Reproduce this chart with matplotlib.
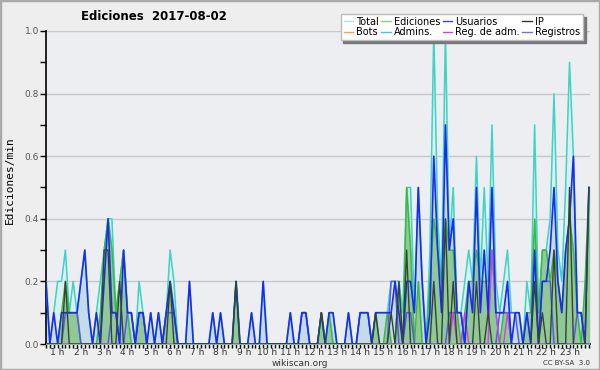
import numpy as np
import matplotlib
matplotlib.use("Agg")
import matplotlib.pyplot as plt
from matplotlib.lines import Line2D
from matplotlib.patches import Rectangle

# ========================
# DATA (edits/min, one point every 10 min from 00:30)
# ========================

hour_labels = [f"{h} h" for h in range(1, 24)]

total = [
    0.2, 0.0, 0.1, 0.2, 0.2, 0.3, 0.1, 0.2, 0.1, 0.2,
    0.3, 0.1, 0.0, 0.1, 0.2, 0.3, 0.4, 0.4, 0.1, 0.2,
    0.3, 0.1, 0.1, 0.0, 0.2, 0.1, 0.0, 0.1, 0.0, 0.1,
    0.0, 0.1, 0.3, 0.2, 0.0, 0.0, 0.0, 0.2, 0.0, 0.0,
    0.0, 0.0, 0.0, 0.1, 0.0, 0.1, 0.0, 0.0, 0.0, 0.2,
    0.0, 0.0, 0.0, 0.1, 0.0, 0.0, 0.2, 0.0, 0.0, 0.0,
    0.0, 0.0, 0.0, 0.1, 0.0, 0.0, 0.1, 0.1, 0.0, 0.0,
    0.0, 0.1, 0.0, 0.1, 0.1, 0.0, 0.0, 0.0, 0.1, 0.0,
    0.0, 0.1, 0.1, 0.1, 0.0, 0.1, 0.1, 0.1, 0.1, 0.2,
    0.2, 0.2, 0.1, 0.5, 0.5, 0.1, 0.5, 0.2, 0.0, 0.3,
    1.0, 0.4, 0.2, 1.0, 0.3, 0.5, 0.1, 0.1, 0.2, 0.3,
    0.2, 0.6, 0.2, 0.5, 0.2, 0.7, 0.2, 0.1, 0.2, 0.3,
    0.1, 0.1, 0.1, 0.0, 0.2, 0.1, 0.7, 0.1, 0.3, 0.3,
    0.4, 0.8, 0.3, 0.2, 0.5, 0.9, 0.6, 0.1, 0.1, 0.0,
    0.5,
]

usuarios = [
    0.2, 0.0, 0.1, 0.0, 0.1, 0.1, 0.1, 0.1, 0.1, 0.2,
    0.3, 0.1, 0.0, 0.1, 0.0, 0.2, 0.4, 0.1, 0.1, 0.0,
    0.3, 0.1, 0.1, 0.0, 0.1, 0.1, 0.0, 0.1, 0.0, 0.1,
    0.0, 0.1, 0.2, 0.1, 0.0, 0.0, 0.0, 0.2, 0.0, 0.0,
    0.0, 0.0, 0.0, 0.1, 0.0, 0.1, 0.0, 0.0, 0.0, 0.2,
    0.0, 0.0, 0.0, 0.1, 0.0, 0.0, 0.2, 0.0, 0.0, 0.0,
    0.0, 0.0, 0.0, 0.1, 0.0, 0.0, 0.1, 0.1, 0.0, 0.0,
    0.0, 0.1, 0.0, 0.1, 0.1, 0.0, 0.0, 0.0, 0.1, 0.0,
    0.0, 0.1, 0.1, 0.1, 0.0, 0.1, 0.1, 0.1, 0.1, 0.1,
    0.2, 0.1, 0.0, 0.2, 0.2, 0.1, 0.5, 0.2, 0.0, 0.1,
    0.6, 0.3, 0.1, 0.7, 0.3, 0.4, 0.1, 0.1, 0.0, 0.2,
    0.1, 0.5, 0.1, 0.3, 0.1, 0.5, 0.1, 0.1, 0.1, 0.2,
    0.0, 0.1, 0.1, 0.0, 0.1, 0.0, 0.3, 0.0, 0.2, 0.2,
    0.3, 0.5, 0.2, 0.1, 0.3, 0.4, 0.6, 0.1, 0.1, 0.0,
    0.5,
]

ediciones = [
    0.0, 0.0, 0.0, 0.0, 0.1, 0.2, 0.1, 0.1, 0.1, 0.0,
    0.0, 0.0, 0.0, 0.0, 0.1, 0.3, 0.4, 0.3, 0.1, 0.2,
    0.3, 0.1, 0.0, 0.0, 0.1, 0.1, 0.0, 0.0, 0.0, 0.0,
    0.0, 0.1, 0.2, 0.1, 0.0, 0.0, 0.0, 0.0, 0.0, 0.0,
    0.0, 0.0, 0.0, 0.0, 0.0, 0.0, 0.0, 0.0, 0.0, 0.2,
    0.0, 0.0, 0.0, 0.0, 0.0, 0.0, 0.0, 0.0, 0.0, 0.0,
    0.0, 0.0, 0.0, 0.0, 0.0, 0.0, 0.0, 0.0, 0.0, 0.0,
    0.0, 0.1, 0.0, 0.1, 0.0, 0.0, 0.0, 0.0, 0.0, 0.0,
    0.0, 0.0, 0.0, 0.0, 0.0, 0.1, 0.0, 0.0, 0.1, 0.0,
    0.0, 0.2, 0.0, 0.5, 0.3, 0.0, 0.2, 0.0, 0.0, 0.2,
    0.4, 0.3, 0.2, 0.4, 0.3, 0.3, 0.1, 0.0, 0.1, 0.2,
    0.2, 0.3, 0.2, 0.2, 0.2, 0.3, 0.1, 0.0, 0.1, 0.1,
    0.0, 0.0, 0.0, 0.0, 0.1, 0.1, 0.4, 0.1, 0.3, 0.3,
    0.2, 0.3, 0.2, 0.1, 0.3, 0.4, 0.3, 0.1, 0.0, 0.2,
    0.5,
]

ip = [
    0.0, 0.0, 0.0, 0.0, 0.0, 0.2, 0.0, 0.0, 0.0, 0.0,
    0.0, 0.0, 0.0, 0.0, 0.0, 0.3, 0.3, 0.0, 0.0, 0.2,
    0.0, 0.0, 0.0, 0.0, 0.0, 0.0, 0.0, 0.0, 0.0, 0.0,
    0.0, 0.0, 0.2, 0.0, 0.0, 0.0, 0.0, 0.0, 0.0, 0.0,
    0.0, 0.0, 0.0, 0.0, 0.0, 0.0, 0.0, 0.0, 0.0, 0.2,
    0.0, 0.0, 0.0, 0.0, 0.0, 0.0, 0.0, 0.0, 0.0, 0.0,
    0.0, 0.0, 0.0, 0.0, 0.0, 0.0, 0.0, 0.0, 0.0, 0.0,
    0.0, 0.1, 0.0, 0.0, 0.0, 0.0, 0.0, 0.0, 0.0, 0.0,
    0.0, 0.0, 0.0, 0.0, 0.0, 0.1, 0.0, 0.0, 0.0, 0.1,
    0.0, 0.2, 0.0, 0.3, 0.0, 0.0, 0.0, 0.0, 0.0, 0.0,
    0.2, 0.0, 0.0, 0.4, 0.0, 0.2, 0.0, 0.0, 0.0, 0.0,
    0.0, 0.2, 0.0, 0.0, 0.1, 0.0, 0.0, 0.0, 0.0, 0.0,
    0.0, 0.0, 0.0, 0.0, 0.0, 0.0, 0.2, 0.0, 0.1, 0.0,
    0.0, 0.3, 0.0, 0.0, 0.0, 0.5, 0.0, 0.0, 0.0, 0.0,
    0.5,
]

registros = [
    0.0, 0.0, 0.0, 0.0, 0.0, 0.1, 0.1, 0.1, 0.1, 0.0,
    0.0, 0.0, 0.0, 0.0, 0.0, 0.0, 0.0, 0.1, 0.1, 0.0,
    0.0, 0.1, 0.1, 0.0, 0.1, 0.1, 0.0, 0.0, 0.0, 0.0,
    0.0, 0.1, 0.1, 0.1, 0.0, 0.0, 0.0, 0.0, 0.0, 0.0,
    0.0, 0.0, 0.0, 0.0, 0.0, 0.0, 0.0, 0.0, 0.0, 0.0,
    0.0, 0.0, 0.0, 0.0, 0.0, 0.0, 0.0, 0.0, 0.0, 0.0,
    0.0, 0.0, 0.0, 0.0, 0.0, 0.0, 0.1, 0.1, 0.0, 0.0,
    0.0, 0.0, 0.0, 0.0, 0.0, 0.0, 0.0, 0.0, 0.0, 0.0,
    0.0, 0.1, 0.1, 0.1, 0.0, 0.0, 0.0, 0.0, 0.0, 0.2,
    0.2, 0.0, 0.0, 0.1, 0.1, 0.0, 0.0, 0.0, 0.0, 0.0,
    0.0, 0.0, 0.0, 0.0, 0.1, 0.1, 0.1, 0.1, 0.0, 0.0,
    0.0, 0.0, 0.0, 0.0, 0.0, 0.0, 0.0, 0.1, 0.1, 0.1,
    0.1, 0.1, 0.0, 0.0, 0.0, 0.0, 0.0, 0.0, 0.2, 0.2,
    0.2, 0.0, 0.0, 0.0, 0.0, 0.0, 0.0, 0.1, 0.1, 0.0,
    0.0,
]

reg_adm = [0.0] * 141
for idx, v in [(105, 0.1), (108, 0.1), (115, 0.3), (116, 0.1), (119, 0.1)]:
    reg_adm[idx] = v

t = 0.5 + np.arange(len(total)) / 6.0

# ========================
# FIGURE
# ========================

plt.rcParams['font.family'] = ['DejaVu Sans']

fig = plt.figure(figsize=(6, 3.7), dpi=100, facecolor="#eeeeee")
fig.patches.append(Rectangle((0, 0), 1, 1, transform=fig.transFigure,
                             fill=False, edgecolor="#aaaaaa", lw=2.5))

ax = fig.add_axes([46 / 600, 26 / 370, 544 / 600, 313 / 370])
ax.set_facecolor("#eceef1")

for y in [0.2, 0.4, 0.6, 0.8, 1.0]:
    ax.axhline(y, color="#c8c8c8", lw=1, zorder=0)

ax.fill_between(t, total, color="#d9eff0", zorder=1)
ax.fill_between(t, usuarios, color="#c3dce8", zorder=2)
ax.fill_between(t, ediciones, color="#8cc78c", alpha=0.9, zorder=3)

ax.plot(t, total, color="#3fd2c6", lw=1.1, zorder=4)
ax.plot(t, ediciones, color="#3cb83c", lw=1.0, zorder=5)
ax.plot(t, registros, color="#5858f0", lw=1.1, zorder=5)
ax.plot(t, reg_adm, color="#cc44dd", lw=1.0, zorder=5)
ax.plot(t, usuarios, color="#1a2cf0", lw=1.2, zorder=6)
ax.plot(t, ip, color="#334433", lw=1.0, zorder=7)

ax.set_xlim(0.5, 23.88)
ax.set_ylim(0, 1.0)

ax.spines['top'].set_visible(False)
ax.spines['right'].set_visible(False)
ax.spines['left'].set_linewidth(1.2)
ax.spines['bottom'].set_linewidth(1.2)

ax.set_xticks(range(1, 24))
ax.set_xticklabels(hour_labels, fontsize=6.5, color="#333333")
ax.set_xticks(np.arange(0.5, 23.9, 1 / 6), minor=True)
ax.tick_params(axis='x', which='both', length=3, width=1, pad=0)

ax.set_yticks([0.0, 0.2, 0.4, 0.6, 0.8, 1.0])
ax.set_yticklabels(["0.0", "0.2", "0.4", "0.6", "0.8", "1.0"], fontsize=6.5, color="#555555")
ax.set_yticks(np.arange(0.1, 1.0, 0.2), minor=True)
ax.tick_params(axis='y', which='both', length=4, width=1, pad=1)

fig.text(154 / 600, 1 - 16 / 370, "Ediciones  2017-08-02", fontsize=8.5,
         fontweight='bold', ha='center', va='center')
fig.text(10 / 600, 1 - 180 / 370, "Ediciones/min", fontsize=8, rotation=90,
         family='DejaVu Sans Mono', ha='center', va='center')
fig.text(300 / 600, 1 - 363 / 370, "wikiscan.org", fontsize=6.5,
         ha='center', va='center', color="#333333")
fig.text(590 / 600, 1 - 363 / 370, "CC BY-SA  3.0", fontsize=5,
         ha='right', va='center', color="#333333")

# ========================
# LEGEND
# ========================

legend_names = ["Total", "Bots", "Ediciones", "Admins.",
                "Usuarios", "Reg. de adm.", "IP", "Registros"]
legend_colors = ["#a8e4e4", "#ffa040", "#80d080", "#40c8d8",
                 "#4040e0", "#cc44dd", "#333333", "#7070f0"]
handles = [Line2D([], [], color=c, lw=1) for c in legend_colors]

leg = fig.legend(handles, legend_names, ncol=4, loc='upper right',
                 bbox_to_anchor=(588 / 600, 1 - 9 / 370), fontsize=7,
                 frameon=True, fancybox=False, shadow={'color': '#777777', 'alpha': 1},
                 handlelength=1.0, handletextpad=0.3, columnspacing=0.25,
                 labelspacing=0.05, borderpad=0.3, edgecolor="#bbbbbb")
leg.get_frame().set_facecolor("white")

fig.savefig("out.png", dpi=100, facecolor=fig.get_facecolor())
